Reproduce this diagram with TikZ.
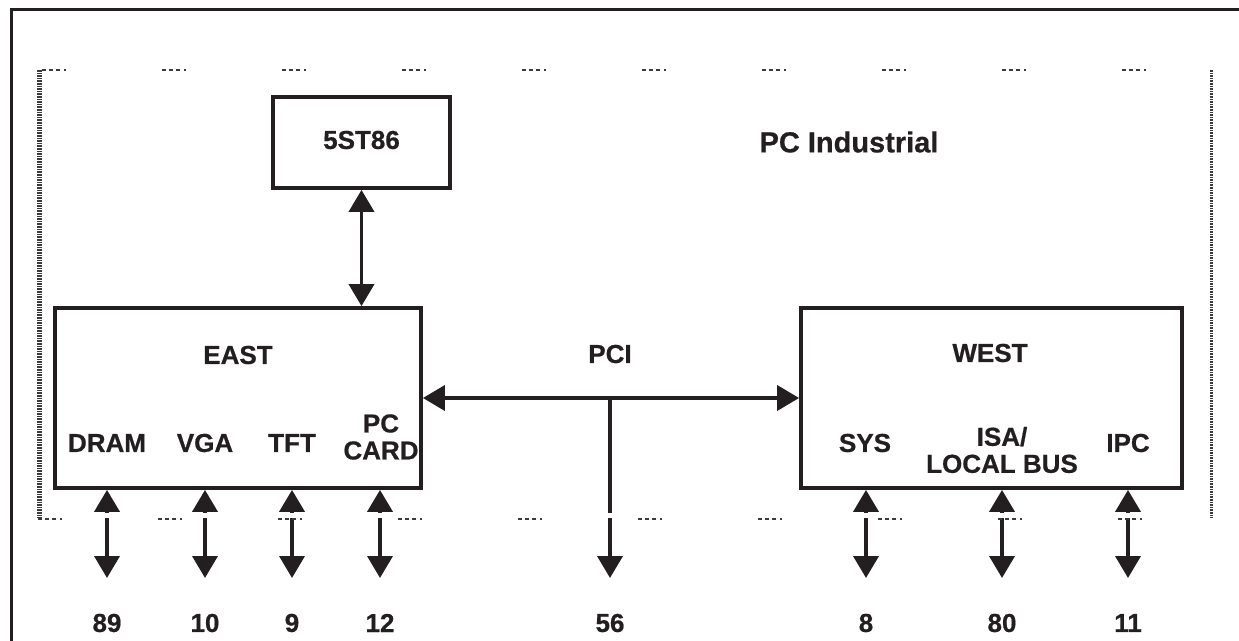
\documentclass[tikz,border=0pt]{standalone}
\usepackage{fontspec}
\setmainfont{Liberation Sans}[BoldFeatures={FakeBold=0.6}]
\usetikzlibrary{arrows.meta}
\definecolor{ink}{HTML}{231F20}
\definecolor{frm}{HTML}{3A3A3A}
\begin{document}
\begin{tikzpicture}[x=1pt,y=-1pt,
  box/.style={draw=ink, line width=3.8pt, inner sep=0pt},
  lbl/.style={font=\bfseries\fontsize{26}{27}\selectfont, text=ink, inner sep=0pt, align=center},
  tipA/.tip={Triangle[length=22pt,width=25pt]},
  dbl/.style={draw=ink, line width=3.8pt, tipA-tipA},
  one/.style={draw=ink, line width=3.8pt, -tipA},
  hfr/.style={draw=frm, line width=2pt, dash pattern=on 4pt off 3pt on 4pt off 3pt on 4pt off 4pt on 2pt off 96pt},
  vfr/.style={draw=frm, dash pattern=on 1.6pt off 1pt}]
\useasboundingbox (0,0) rectangle (1239,640);
% outer border
\draw[ink, line width=3pt] (11,660) -- (11,9) -- (1260,9);
% frame
\draw[hfr] (42,70) -- (1211,70);
\draw[vfr, line width=5pt] (39,70) -- (39,518);
\draw[vfr, line width=3pt] (1211,70) -- (1211,518);
% boxes
\node[box, minimum width=177pt, minimum height=91pt] (st) at (361.5,142.5) {};
\node[lbl] (stl) at (361.5,140) {5ST86};
\node[box, minimum width=366pt, minimum height=180pt] (east) at (238,398) {};
\node[box, minimum width=381pt, minimum height=180pt] (west) at (991.5,398) {};
\node[lbl, font=\bfseries\fontsize{29}{30}\selectfont] (pci) at (849,142) {PC Industrial};
\node[lbl] (eastl) at (238,355) {EAST};
\node[lbl] (dram) at (107,443) {DRAM};
\node[lbl] (vga) at (205,443) {VGA};
\node[lbl] (tft) at (292,443) {TFT};
\node[lbl] (pcc) at (381,437) {PC\\CARD};
\node[lbl] (westl) at (990,353) {WEST};
\node[lbl] (sys) at (865,443) {SYS};
\node[lbl] (isa) at (1002,450) {ISA/\\LOCAL BUS};
\node[lbl] (ipc) at (1128,443) {IPC};
\node[lbl] (pcil) at (610,354) {PCI};
% bottom numbers
\node[lbl] (n89) at (107,623) {89};
\node[lbl] (n10) at (205,623) {10};
\node[lbl] (n9) at (292,623) {9};
\node[lbl] (n12) at (380,623) {12};
\node[lbl] (n56) at (610,623) {56};
\node[lbl] (n8) at (866,623) {8};
\node[lbl] (n80) at (1002,623) {80};
\node[lbl] (n11) at (1128,623) {11};
% arrow end points
\foreach \n/\x in {e89/107,e10/205,e9/292,e12/380,e56/610,e8/866,e80/1002,e11/1128}
  \coordinate (\n) at (\x,578);
\coordinate (j) at (610,398);
% connectors
\draw[dbl] (st.south) -- (east.north -| st.south);
\draw[dbl] (east.east) -- (west.west);
\draw[one] (j) -- (e56);
\foreach \n in {e89,e10,e9,e12}
  \draw[dbl] (east.south -| \n) -- (\n);
\foreach \n in {e8,e80,e11}
  \draw[dbl] (west.south -| \n) -- (\n);
% gaps where the frame crosses
\draw[white, line width=5pt] (60,515) -- (1195,515);
\draw[hfr] (38,519) -- (1211,519);
\end{tikzpicture}
\end{document}
